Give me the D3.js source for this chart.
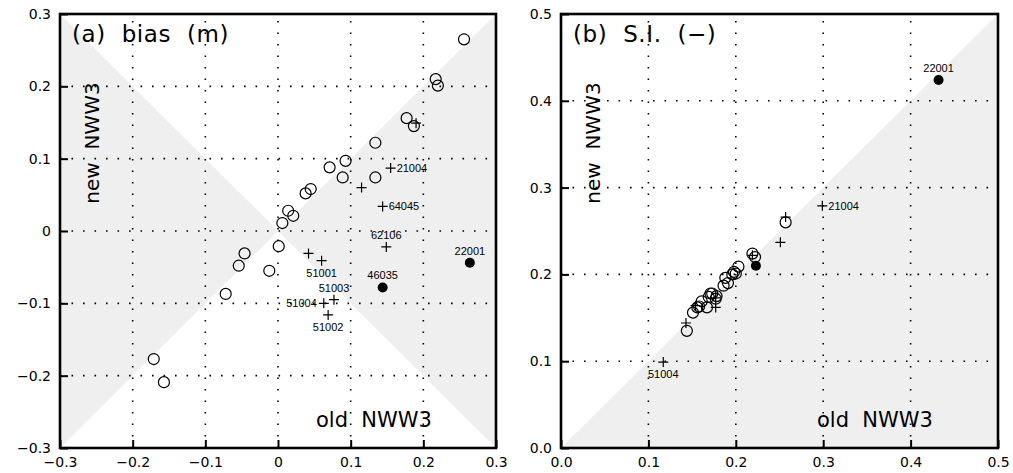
<!DOCTYPE html>
<html>
<head>
<meta charset="utf-8">
<script src="https://cdn.jsdelivr.net/npm/d3@7"></script>
<style>
  body { margin: 0; background: #fff; }
  svg { display: block; }
</style>
</head>
<body>
<div id="chart"></div>
<script>
// ---- data: panel (a) bias (m), old NWW3 (x) vs new NWW3 (y)
const biasTicks = [-0.3, -0.2, -0.1, 0, 0.1, 0.2, 0.3];
const biasOpen = [
  [0.256, 0.265], [0.217, 0.210], [0.220, 0.201], [0.177, 0.156], [0.187, 0.145],
  [0.134, 0.122], [0.093, 0.097], [0.071, 0.088], [0.089, 0.074], [0.134, 0.074],
  [0.038, 0.052], [0.045, 0.058], [0.014, 0.028], [0.021, 0.021], [0.006, 0.011],
  [0.001, -0.021], [-0.046, -0.031], [-0.054, -0.048], [-0.012, -0.055],
  [-0.072, -0.087], [-0.171, -0.177], [-0.157, -0.209]
];
const biasPlus = [
  [0.190, 0.149], [0.115, 0.060], [0.155, 0.087], [0.144, 0.034], [0.149, -0.022],
  [0.042, -0.031], [0.060, -0.041], [0.077, -0.095], [0.063, -0.100], [0.069, -0.116]
];
const biasFilled = [[0.264, -0.044], [0.144, -0.078]];
const biasLabels = [
  ["21004", 0.155, 0.087], ["64045", 0.144, 0.034], ["62106", 0.149, -0.022],
  ["22001", 0.264, -0.044], ["46035", 0.144, -0.078], ["51001", 0.060, -0.041],
  ["51003", 0.077, -0.095], ["51004", 0.063, -0.100], ["51002", 0.069, -0.116]
];

// ---- data: panel (b) scatter index (-)
const siTicks = [0.0, 0.1, 0.2, 0.3, 0.4, 0.5];
const siOpen = [
  [0.257, 0.260], [0.219, 0.224], [0.222, 0.220], [0.203, 0.209], [0.198, 0.203],
  [0.196, 0.200], [0.200, 0.201], [0.188, 0.196], [0.191, 0.190], [0.186, 0.187],
  [0.171, 0.178], [0.173, 0.178], [0.178, 0.175], [0.177, 0.172], [0.169, 0.174],
  [0.167, 0.162], [0.161, 0.169], [0.156, 0.162], [0.158, 0.163], [0.151, 0.156],
  [0.144, 0.135]
];
const siPlus = [
  [0.257, 0.266], [0.299, 0.279], [0.251, 0.237], [0.219, 0.222], [0.177, 0.173],
  [0.177, 0.162], [0.154, 0.164], [0.143, 0.144], [0.117, 0.099]
];
const siFilled = [[0.432, 0.424], [0.223, 0.210]];
const siLabels = [["22001", 0.432, 0.424], ["21004", 0.299, 0.279], ["51004", 0.117, 0.099]];

// where each station label sits relative to its marker
const labelPlace = {
  a: {"21004": "right", "64045": "right", "62106": "above", "22001": "above", "46035": "above",
      "51001": "below", "51003": "above", "51004": "left", "51002": "below"},
  b: {"22001": "above", "21004": "right", "51004": "below"}
};

const width = 1013, height = 473;
const mainFont = "DejaVu Sans";

const svg = d3.select("#chart").append("svg")
    .attr("width", width)
    .attr("height", height);

function drawPanel(opt) {
  const x = d3.scaleLinear().domain(opt.domain).range([opt.left, opt.right]);
  const y = d3.scaleLinear().domain(opt.domain).range([448, 14]);
  const g = svg.append("g");

  // grey shading
  g.selectAll("path.shade")
    .data(opt.shade)
    .join("path")
    .attr("class", "shade")
    .attr("d", d => "M" + d.map(p => [x(p[0]), y(p[1])].join(",")).join("L") + "Z")
    .attr("fill", "#efefef");

  // dotted grid
  const inner = opt.ticks.slice(1, -1);
  g.selectAll("line.vgrid")
    .data(inner)
    .join("line")
    .attr("x1", d => x(d)).attr("x2", d => x(d))
    .attr("y1", y.range()[0]).attr("y2", y.range()[1])
    .attr("stroke", "#000").attr("stroke-width", 1.6)
    .attr("stroke-dasharray", "1.6,9.9");
  g.selectAll("line.hgrid")
    .data(inner)
    .join("line")
    .attr("y1", d => y(d)).attr("y2", d => y(d))
    .attr("x1", x.range()[0]).attr("x2", x.range()[1])
    .attr("stroke", "#000").attr("stroke-width", 1.6)
    .attr("stroke-dasharray", "1.6,9.9");

  // axes
  const fmt = d => d === 0 && opt.zeroPlain ? "0" : d3.format(".1f")(d);
  const xAxis = g.append("g")
    .attr("transform", `translate(0,${y.range()[0]})`)
    .call(d3.axisBottom(x).tickValues(opt.ticks).tickSize(-8).tickPadding(9).tickFormat(fmt));
  const yAxis = g.append("g")
    .attr("transform", `translate(${x.range()[0]},0)`)
    .call(d3.axisLeft(y).tickValues(opt.ticks).tickSize(-8).tickPadding(9).tickFormat(fmt));
  [xAxis, yAxis].forEach(a => {
    a.select(".domain").remove();
    a.attr("font-family", mainFont).attr("font-size", 14);
    a.selectAll(".tick line").attr("stroke", "#000").attr("stroke-width", 2);
    a.selectAll(".tick text").attr("fill", "#000");
  });

  // markers
  g.selectAll("circle.open")
    .data(opt.open)
    .join("circle")
    .attr("cx", d => x(d[0])).attr("cy", d => y(d[1]))
    .attr("r", 5.5)
    .attr("fill", "none").attr("stroke", "#000").attr("stroke-width", 1.2);
  g.selectAll("path.plus")
    .data(opt.plus)
    .join("path")
    .attr("d", d => {
      const cx = x(d[0]), cy = y(d[1]);
      return `M${cx - 5},${cy}H${cx + 5}M${cx},${cy - 5}V${cy + 5}`;
    })
    .attr("stroke", "#000").attr("stroke-width", 1.2);
  g.selectAll("circle.filled")
    .data(opt.filled)
    .join("circle")
    .attr("cx", d => x(d[0])).attr("cy", d => y(d[1]))
    .attr("r", 5)
    .attr("fill", "#000");

  // station labels
  g.selectAll("text.station")
    .data(opt.labels)
    .join("text")
    .attr("font-family", "Liberation Sans")
    .attr("font-size", 11)
    .attr("fill", "#000")
    .attr("x", d => {
      const p = opt.place[d[0]];
      return x(d[1]) + (p === "right" ? 6 : p === "left" ? -7 : 0);
    })
    .attr("y", d => {
      const p = opt.place[d[0]];
      return y(d[2]) + (p === "above" ? -8 : p === "below" ? 16 : 4);
    })
    .attr("text-anchor", d => {
      const p = opt.place[d[0]];
      return p === "right" ? "start" : p === "left" ? "end" : "middle";
    })
    .text(d => d[0]);

  // frame
  g.append("rect")
    .attr("x", x.range()[0]).attr("y", y.range()[1])
    .attr("width", x.range()[1] - x.range()[0])
    .attr("height", y.range()[0] - y.range()[1])
    .attr("fill", "none").attr("stroke", "#000").attr("stroke-width", 2.6);

  // titles
  g.append("text")
    .attr("x", x.range()[0] + 12).attr("y", 42)
    .attr("font-family", mainFont).attr("font-size", 23)
    .attr("letter-spacing", 0.6)
    .style("white-space", "pre")
    .text(opt.title);
  g.append("text")
    .attr("transform", `translate(${x.range()[0] + 39},143) rotate(-90)`)
    .attr("text-anchor", "middle")
    .attr("font-family", mainFont).attr("font-size", 20)
    .style("white-space", "pre")
    .text("new  NWW3");
  g.append("text")
    .attr("x", x.range()[0] + 256).attr("y", 427)
    .attr("font-family", mainFont).attr("font-size", 21)
    .style("white-space", "pre")
    .text("old  NWW3");
}

drawPanel({
  domain: [-0.3, 0.3], left: 60, right: 496, ticks: biasTicks, zeroPlain: true,
  shade: [[[-0.3, 0.3], [0, 0], [-0.3, -0.3]], [[0.3, 0.3], [0, 0], [0.3, -0.3]]],
  open: biasOpen, plus: biasPlus, filled: biasFilled, labels: biasLabels, place: labelPlace.a,
  title: "(a)  bias  (m)"
});

drawPanel({
  domain: [0, 0.5], left: 561, right: 998, ticks: siTicks, zeroPlain: false,
  shade: [[[0, 0], [0.5, 0], [0.5, 0.5]]],
  open: siOpen, plus: siPlus, filled: siFilled, labels: siLabels, place: labelPlace.b,
  title: "(b)  S.I.  (\u2212)"
});
</script>
</body>
</html>
